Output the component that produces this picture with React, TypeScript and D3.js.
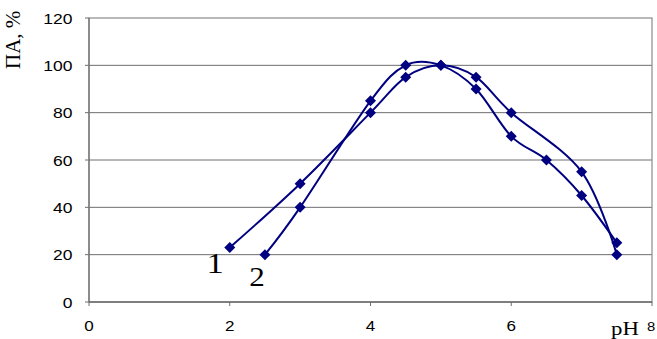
import React from "react";
import * as d3 from "d3";

const xTicks = [0, 2, 4, 6, 8];
const yTicks = [0, 20, 40, 60, 80, 100, 120];
const series1X = [2, 3, 4, 4.5, 5, 5.5, 6, 7, 7.5];
const series1Y = [23, 50, 80, 95, 100, 95, 80, 55, 20];
const series2X = [2.5, 3, 4, 4.5, 5, 5.5, 6, 6.5, 7, 7.5];
const series2Y = [20, 40, 85, 100, 100, 90, 70, 60, 45, 25];
const seriesLabels = ["1", "2"];

export default function App() {
  const W = 657, H = 339;
  const x = d3.scaleLinear().domain([0, 8]).range([89, 652]);
  const y = d3.scaleLinear().domain([0, 120]).range([302, 18]);
  const line = d3
    .line<[number, number]>()
    .x((d) => x(d[0]))
    .y((d) => y(d[1]))
    .curve(d3.curveCardinal.tension(0));
  const s1 = series1X.map((v, i) => [v, series1Y[i]] as [number, number]);
  const s2 = series2X.map((v, i) => [v, series2Y[i]] as [number, number]);
  const color = "#000080";
  const diamond = (cx: number, cy: number, key: string) => (
    <path key={key} d={`M${cx},${cy - 5.5}L${cx + 5.5},${cy}L${cx},${cy + 5.5}L${cx - 5.5},${cy}Z`} fill={color} />
  );
  const sans = "Liberation Sans, Arial, sans-serif";
  const serif = "Liberation Serif, Times New Roman, serif";
  return (
    <svg
      width={W}
      height={H}
      style={{ position: "absolute", left: 0, top: 0, background: "#fff" }}
    >
      <rect x={0} y={0} width={W} height={H} fill="#fff" />
      {yTicks.map((t) => (
        <g key={"y" + t}>
          {t > 0 && t < 120 && (
            <line x1={x(0)} x2={x(8)} y1={y(t)} y2={y(t)} stroke="#6e6e6e" strokeWidth={1} />
          )}
          <line x1={x(0) - 4} x2={x(0)} y1={y(t)} y2={y(t)} stroke="#6e6e6e" strokeWidth={1} />
          <text
            transform={`translate(72.5,${y(t) + 5.5}) scale(1.13,1)`}
            textAnchor="end"
            fontFamily={sans}
            fontSize={15.5}
            fill="#000"
          >
            {t}
          </text>
        </g>
      ))}
      <rect x={x(0)} y={y(120)} width={x(8) - x(0)} height={y(0) - y(120)} fill="none" stroke="#8a8a8a" strokeWidth={1.2} />
      <line x1={x(0)} x2={x(8)} y1={y(0)} y2={y(0)} stroke="#444" strokeWidth={1.2} />
      <line x1={x(0)} x2={x(0)} y1={y(0)} y2={y(120)} stroke="#6e6e6e" strokeWidth={1.2} />
      {xTicks.map((t) => (
        <g key={"x" + t}>
          <line x1={x(t)} x2={x(t)} y1={y(0)} y2={y(0) + 4} stroke="#6e6e6e" strokeWidth={1} />
          <text
            transform={`translate(${t === 8 ? x(t) - 1 : x(t)},331) scale(1.1,1)`}
            textAnchor="middle"
            fontFamily={sans}
            fontSize={t === 8 ? 13.5 : 15.5}
            fill="#000"
          >
            {t}
          </text>
        </g>
      ))}
      <path d={line(s1) || ""} fill="none" stroke={color} strokeWidth={2} />
      <path d={line(s2) || ""} fill="none" stroke={color} strokeWidth={2} />
      {s1.map((d, i) => diamond(x(d[0]), y(d[1]), "a" + i))}
      {s2.map((d, i) => diamond(x(d[0]), y(d[1]), "b" + i))}
      <text transform="translate(215,273) scale(1.15,1)" textAnchor="middle" fontFamily={serif} fontSize={30} fill="#000">
        {seriesLabels[0]}
      </text>
      <text transform="translate(257,286) scale(1.15,1)" textAnchor="middle" fontFamily={serif} fontSize={27} fill="#000">
        {seriesLabels[1]}
      </text>
      <text transform="translate(611,335) scale(1.2,1)" fontFamily={serif} fontSize={19} fill="#000">
        pH
      </text>
      <text transform="translate(19.5,69) rotate(-90)" fontFamily={serif} fontSize={21} fill="#000">
        ПА, %
      </text>
    </svg>
  );
}
